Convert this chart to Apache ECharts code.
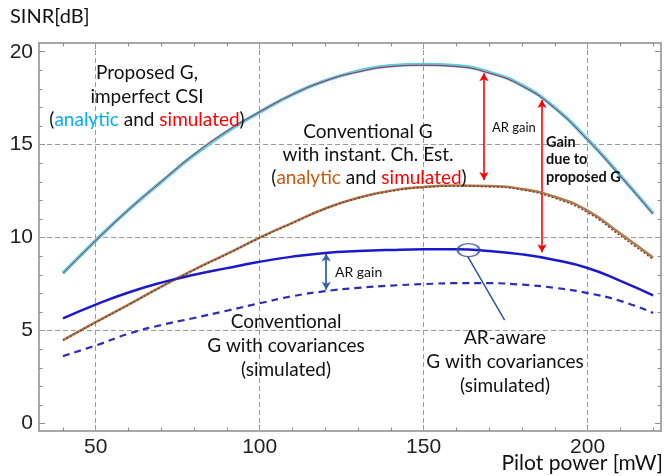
<!DOCTYPE html>
<html>
<head>
<meta charset="utf-8">
<script src="https://cdn.jsdelivr.net/npm/echarts@6/dist/echarts.min.js"></script>
<style>
html,body{margin:0;padding:0;background:#fff;}
#main{width:665px;height:476px;}
</style>
</head>
<body>
<div id="main"></div>
<script>
// ---- data ----
const pilotPower = [40,50,60,70,80,90,100,110,120,130,140,150,160,170,180,190,200,210,220];
const proposedAnalytic  = [8.1,9.85,11.5,13.0,14.45,15.7,16.75,17.7,18.45,18.95,19.25,19.32,19.24,18.89,18.19,16.99,15.29,13.34,11.29];
const proposedSimulated = [8.07,9.84,11.5,13.02,14.48,15.73,16.77,17.7,18.43,18.91,19.2,19.27,19.2,18.85,18.16,16.96,15.26,13.31,11.26];
const conventionalAnalytic  = [4.49,5.46,6.4,7.37,8.28,9.13,10.0,10.8,11.57,12.15,12.53,12.73,12.8,12.78,12.62,12.2,11.45,10.22,8.93];
const conventionalSimulated = [4.47,5.44,6.38,7.35,8.26,9.11,9.98,10.78,11.55,12.12,12.5,12.7,12.77,12.74,12.57,12.12,11.35,10.1,8.83];
const arAwareCov = [5.66,6.4,7.05,7.58,8.0,8.36,8.7,8.98,9.18,9.28,9.34,9.37,9.37,9.28,9.1,8.8,8.37,7.68,6.9];
const conventionalCov = [3.63,4.2,4.83,5.3,5.68,6.07,6.47,6.85,7.12,7.3,7.42,7.5,7.55,7.55,7.47,7.3,7.02,6.6,5.95];

const xMajorTicks = [50,100,150,200];
const xMinorTicks = [40,60,70,80,90,110,120,130,140,160,170,180,190,210,220];
const yMajorTicks = [0,5,10,15,20];
const yMinorTicks = [1,2,3,4,6,7,8,9,11,12,13,14,16,17,18,19];
const gridX = [50,100,150,200];
const gridY = [5,10,15];

// annotation anchors in data units
const redArrowARGain = [[168.4,18.84],[168.4,13.1]];
const redArrowProposed = [[186.1,17.4],[186.1,9.22]];
const blueArrowARGain = [[120.3,9.15],[120.3,7.2]];
const ellipseMark = [[163.7,9.33]];
const pointerLine = [[163.4,9.0],[174.7,5.56]];

const pairs = ys => pilotPower.map((x,i)=>[x,ys[i]]);

const chart = echarts.init(document.getElementById('main'), null, {renderer:'canvas'});
const axisColor = '#8c8c8c';
const X_MIN = 32.7, X_MAX = 222.4, Y_MIN = -0.4, Y_MAX = 20.47;

function xAx(pos, ticks, len, line, labels){
  return {
    type:'value', position:pos, min:X_MIN, max:X_MAX,
    axisLine:{show:line, onZero:false, lineStyle:{color:axisColor,width:1.5}},
    axisTick:{show:true, inside:true, length:len, customValues:ticks, lineStyle:{color:axisColor,width:1}},
    axisLabel: labels ? {show:true, customValues:ticks, fontSize:21, fontFamily:'Liberation Sans, Arial', color:'#222', margin:6} : {show:false},
    splitLine:{show:false}
  };
}
function yAx(pos, ticks, len, line, labels){
  return {
    type:'value', position:pos, min:Y_MIN, max:Y_MAX,
    axisLine:{show:line, onZero:false, lineStyle:{color:axisColor,width:1.5}},
    axisTick:{show:true, inside:true, length:len, customValues:ticks, lineStyle:{color:axisColor,width:1}},
    axisLabel: labels ? {show:true, customValues:ticks, fontSize:21, fontFamily:'Liberation Sans, Arial', color:'#222', margin:6} : {show:false},
    splitLine:{show:false}
  };
}

const font = 'Lato, "Open Sans", sans-serif';
function txt(x,y,text,size,opts){
  opts = opts||{};
  return {type:'text', x:x, y:y, z:50, silent:true,
    style:{text:text, font:(opts.bold?'bold ':'')+size+'px '+font, fill:opts.fill||'#111',
      align:opts.align||'center', verticalAlign:'middle', rich:opts.rich}};
}
const richBase = (size, c1) => ({
  k:{fill:'#111', font:size+'px '+font},
  a:{fill:c1, font:size+'px '+font},
  r:{fill:'#ff0000', font:size+'px '+font}
});

const option = {
  animation:false,
  backgroundColor:'#fff',
  grid:{left:39, right:4, top:43, bottom:45, outerBoundsMode:'none', containLabel:false},
  xAxis:[
    xAx('bottom', xMajorTicks, 6, true, true),
    xAx('bottom', xMinorTicks, 3.5, false, false),
    xAx('top', xMajorTicks, 6, true, false),
    xAx('top', xMinorTicks, 3.5, false, false)
  ],
  yAxis:[
    yAx('left', yMajorTicks, 6, true, true),
    yAx('left', yMinorTicks, 3.5, false, false),
    yAx('right', yMajorTicks, 6, true, false),
    yAx('right', yMinorTicks, 3.5, false, false)
  ],
  series:[
    {type:'line', name:'grid', data:[], silent:true, z:1,
      markLine:{silent:true, symbol:'none', label:{show:false},
        lineStyle:{color:'#9a9a9a', width:1, type:[5,3]},
        data: gridX.map(v=>({xAxis:v})).concat(gridY.map(v=>({yAxis:v})))}},
    {type:'line', name:'Proposed analytic', data:pairs(proposedAnalytic), smooth:0.5, showSymbol:false, z:5,
      lineStyle:{color:'#5cc9dc', width:3.5}},
    {type:'line', name:'Proposed simulated', data:pairs(proposedSimulated), smooth:0.5, showSymbol:false, z:6,
      lineStyle:{color:'#b3234a', width:1}},
    {type:'line', name:'Conventional analytic', data:pairs(conventionalAnalytic), smooth:0.5, showSymbol:false, z:5,
      lineStyle:{color:'#ad7d52', width:2.5}},
    {type:'line', name:'Conventional simulated', data:pairs(conventionalSimulated), smooth:0.5, showSymbol:false, z:6,
      lineStyle:{color:'#7f3b2c', width:1.4, type:[2,2]}},
    {type:'line', name:'AR-aware cov', data:pairs(arAwareCov), smooth:0.5, showSymbol:false, z:5,
      lineStyle:{color:'#1a1acc', width:2.5}},
    {type:'line', name:'Conventional cov', data:pairs(conventionalCov), smooth:0.5, showSymbol:false, z:5,
      lineStyle:{color:'#2e2eb4', width:2.2, type:[7,5]}},
    {type:'line', name:'arrows', data:[], silent:true, z:8,
      markLine:{silent:true, symbol:['arrow','arrow'], symbolSize:[7,8], label:{show:false},
        data:[
          [{coord:redArrowARGain[0], lineStyle:{color:'#ff0000',width:1.6,type:'solid'}},{coord:redArrowARGain[1]}],
          [{coord:redArrowProposed[0], lineStyle:{color:'#ff0000',width:1.6,type:'solid'}},{coord:redArrowProposed[1]}],
          [{coord:blueArrowARGain[0], lineStyle:{color:'#3a62a8',width:1.8,type:'solid'}},{coord:blueArrowARGain[1]}]
        ]}},
    {type:'line', name:'pointer', data:pointerLine, showSymbol:false, silent:true, z:8,
      lineStyle:{color:'#2f5597', width:1.5}},
    {type:'scatter', name:'ellipse', data:ellipseMark, symbol:'circle', symbolSize:[22,13], silent:true, z:9,
      itemStyle:{color:'rgba(0,0,0,0)', borderColor:'#2f5597', borderWidth:1.6}}
  ],
  graphic:[
    txt(10,17,'SINR[dB]',20,{align:'left'}),
    txt(663,463,'Pilot power [mW]',21,{align:'right'}),
    txt(147,73,'Proposed G,',19),
    txt(147,97,'imperfect CSI',19),
    txt(147,120,'{k|(}{a|analytic}{k| and }{r|simulated}{k|)}',19,{rich:richBase(19,'#00b0f0')}),
    txt(368,132,'Conventional G',19),
    txt(368,155,'with instant. Ch. Est.',19),
    txt(369,178,'{k|(}{a|analytic}{k| and }{r|simulated}{k|)}',19,{rich:richBase(19,'#c55a11')}),
    txt(492,128,'AR gain',13,{align:'left'}),
    txt(546,142,'Gain',14.5,{align:'left',bold:true}),
    txt(546,159.5,'due to',14.5,{align:'left',bold:true}),
    txt(546,177,'proposed G',14.5,{align:'left',bold:true}),
    txt(335,272,'AR gain',14,{align:'left'}),
    txt(286,322,'Conventional',19),
    txt(286,346,'G with covariances',19),
    txt(286,370,'(simulated)',19),
    txt(505,338,'AR-aware',19),
    txt(505,362,'G with covariances',19),
    txt(505,386,'(simulated)',19)
  ]
};
chart.setOption(option);
</script>
</body>
</html>
